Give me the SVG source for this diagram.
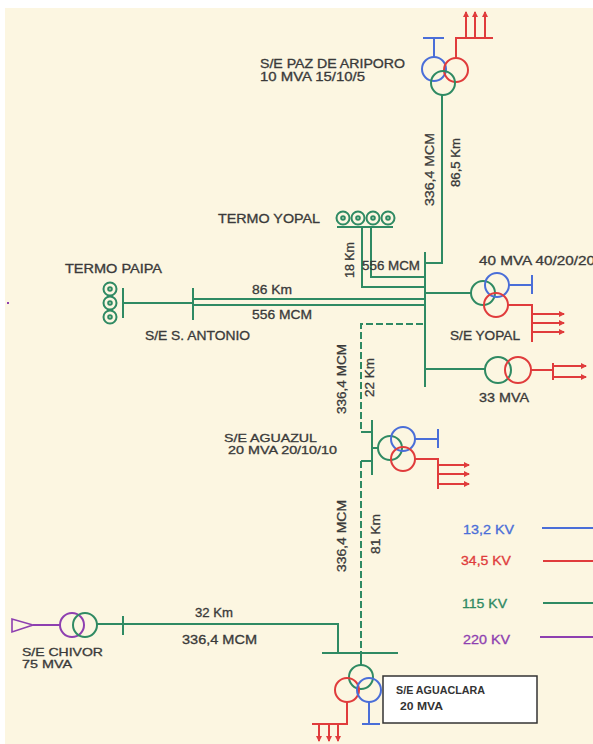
<svg xmlns="http://www.w3.org/2000/svg" width="593" height="744" viewBox="0 0 593 744">
<defs>
<style>
.g{stroke:#2f8a63;stroke-width:2;fill:none}
.gd{stroke:#2f8a63;stroke-width:2;fill:none;stroke-dasharray:7,3}
.b{stroke:#4a6ed8;stroke-width:2;fill:none}
.r{stroke:#e03c3c;stroke-width:2;fill:none}
.p{stroke:#8e3fb0;stroke-width:2;fill:none}
.ra{stroke:#e03c3c;stroke-width:2;fill:none;marker-end:url(#arr)}
.t{font-family:"Liberation Sans",Arial,sans-serif;font-size:12px;fill:#3a3a3a;stroke:#3a3a3a;stroke-width:0.3}
.s{font-family:"Liberation Sans",Arial,sans-serif;font-size:11px;fill:#3a3a3a;stroke:#3a3a3a;stroke-width:0.3}
.k{font-family:"Liberation Sans",Arial,sans-serif;font-size:10.5px;font-weight:bold;fill:#333}
.lg{font-family:"Liberation Sans",Arial,sans-serif;font-size:12px;stroke-width:0.3}
</style>
<marker id="arr" viewBox="0 0 6 6" refX="5" refY="3" markerWidth="6" markerHeight="6" markerUnits="userSpaceOnUse" orient="auto">
<path d="M0,0 L6,3 L0,6 z" fill="#e03c3c"/>
</marker>
</defs>
<rect x="0" y="0" width="593" height="744" fill="#ffffff"/>
<rect x="5" y="8" width="588" height="736" fill="#fcf6e1"/>
<rect x="7" y="302" width="2" height="2" fill="#8e3fb0"/>

<g id="connectors">
<polyline class="g" points="442,95 442,263 425,263"/>
<polyline class="g" points="362,227 362,287 425,287"/>
<polyline class="g" points="371,227 371,277 425,277"/>
<line class="g" x1="123" y1="303" x2="193" y2="303"/>
<line class="g" x1="193" y1="299" x2="425" y2="299"/>
<line class="g" x1="193" y1="305" x2="425" y2="305"/>
<line class="g" x1="425" y1="293" x2="471" y2="293"/>
<line class="g" x1="425" y1="369" x2="485" y2="369"/>
<polyline class="gd" points="423,324 361,324 361,432"/>
<line class="g" x1="361" y1="432" x2="372" y2="432"/>
<line class="g" x1="361" y1="461" x2="372" y2="461"/>
<line class="gd" x1="361" y1="461" x2="361" y2="653"/>
<polyline class="g" points="97,624 338,624 338,653"/>
</g>

<g id="line-labels">
<text class="t" transform="translate(434,206) rotate(-90)" textLength="73" lengthAdjust="spacingAndGlyphs">336,4  MCM</text>
<text class="t" transform="translate(460,187) rotate(-90)" textLength="49" lengthAdjust="spacingAndGlyphs">86,5 Km</text>
<text class="t" transform="translate(354,278) rotate(-90)" textLength="36" lengthAdjust="spacingAndGlyphs">18 Km</text>
<text class="t" x="362" y="270" textLength="58" lengthAdjust="spacingAndGlyphs">556 MCM</text>
<text class="t" x="252" y="294" textLength="40" lengthAdjust="spacingAndGlyphs">86 Km</text>
<text class="t" x="252" y="319" textLength="60" lengthAdjust="spacingAndGlyphs">556 MCM</text>
<text class="t" transform="translate(346,414) rotate(-90)" textLength="70" lengthAdjust="spacingAndGlyphs">336,4  MCM</text>
<text class="t" transform="translate(374,397) rotate(-90)" textLength="39" lengthAdjust="spacingAndGlyphs">22 Km</text>
<text class="t" transform="translate(346,572) rotate(-90)" textLength="72" lengthAdjust="spacingAndGlyphs">336,4  MCM</text>
<text class="t" transform="translate(380,554) rotate(-90)" textLength="40" lengthAdjust="spacingAndGlyphs">81 Km</text>
<text class="t" x="195" y="617" textLength="38" lengthAdjust="spacingAndGlyphs">32 Km</text>
<text class="t" x="182" y="644" textLength="75" lengthAdjust="spacingAndGlyphs">336,4  MCM</text>
</g>

<g id="se-paz-de-ariporo">
<polyline class="b" points="434,57 434,38"/>
<line class="b" x1="423" y1="38" x2="444" y2="38"/>
<polyline class="r" points="456,58 456,38 493,38"/>
<line class="ra" x1="466" y1="38" x2="466" y2="12"/>
<line class="ra" x1="475" y1="38" x2="475" y2="12"/>
<line class="ra" x1="485" y1="38" x2="485" y2="12"/>
<circle class="b" cx="434" cy="69" r="12"/>
<circle class="r" cx="456" cy="70" r="12"/>
<circle class="g" cx="443" cy="83" r="12"/>
<text class="t" x="260" y="68" textLength="145" lengthAdjust="spacingAndGlyphs">S/E PAZ DE ARIPORO</text>
<text class="t" x="260" y="81" textLength="105" lengthAdjust="spacingAndGlyphs">10 MVA  15/10/5</text>
</g>

<g id="termo-yopal">
<circle class="g" cx="343" cy="218" r="6.5" stroke-width="1.6"/>
<circle class="g" cx="358" cy="218" r="6.5" stroke-width="1.6"/>
<circle class="g" cx="373" cy="218" r="6.5" stroke-width="1.6"/>
<circle class="g" cx="388" cy="218" r="6.5" stroke-width="1.6"/>
<circle class="g" cx="343" cy="218" r="1.8" stroke-width="1"/>
<circle class="g" cx="358" cy="218" r="1.8" stroke-width="1"/>
<circle class="g" cx="373" cy="218" r="1.8" stroke-width="1"/>
<circle class="g" cx="388" cy="218" r="1.8" stroke-width="1"/>
<line class="g" x1="337" y1="227" x2="393" y2="227"/>
<text class="t" x="218" y="223" textLength="102" lengthAdjust="spacingAndGlyphs">TERMO YOPAL</text>
</g>

<g id="termo-paipa">
<circle class="g" cx="110" cy="289" r="6.5" stroke-width="1.6"/>
<circle class="g" cx="110" cy="303" r="6.5" stroke-width="1.6"/>
<circle class="g" cx="110" cy="317" r="6.5" stroke-width="1.6"/>
<circle class="g" cx="110" cy="289" r="1.8" stroke-width="1"/>
<circle class="g" cx="110" cy="303" r="1.8" stroke-width="1"/>
<circle class="g" cx="110" cy="317" r="1.8" stroke-width="1"/>
<line class="g" x1="123" y1="288" x2="123" y2="318"/>
<text class="t" x="65" y="273" textLength="97" lengthAdjust="spacingAndGlyphs">TERMO PAIPA</text>
</g>

<g id="se-s-antonio">
<line class="g" x1="193" y1="288" x2="193" y2="320"/>
<text class="t" x="145" y="340" textLength="105" lengthAdjust="spacingAndGlyphs">S/E S. ANTONIO</text>
</g>

<g id="yopal-bus">
<line class="g" x1="425" y1="252" x2="425" y2="387"/>
</g>

<g id="se-yopal">
<polyline class="b" points="509,285 532,285"/>
<line class="b" x1="532" y1="275" x2="532" y2="294"/>
<polyline class="r" points="508,305 532,305 532,342"/>
<line class="ra" x1="532" y1="314" x2="564" y2="314"/>
<line class="ra" x1="532" y1="323" x2="564" y2="323"/>
<line class="ra" x1="532" y1="332" x2="564" y2="332"/>
<circle class="g" cx="483" cy="293" r="12"/>
<circle class="b" cx="497" cy="285" r="12"/>
<circle class="r" cx="496" cy="305" r="12"/>
<text class="t" x="479" y="265" textLength="116" lengthAdjust="spacingAndGlyphs">40 MVA  40/20/20</text>
<text class="t" x="450" y="340" textLength="70" lengthAdjust="spacingAndGlyphs">S/E YOPAL</text>
</g>

<g id="t-33mva">
<polyline class="r" points="531,370 553,370"/>
<line class="r" x1="553" y1="363" x2="553" y2="380"/>
<line class="ra" x1="553" y1="366" x2="586" y2="366"/>
<line class="ra" x1="553" y1="377" x2="586" y2="377"/>
<circle class="g" cx="498" cy="370" r="13"/>
<circle class="r" cx="518" cy="370" r="13"/>
<text class="t" x="479" y="402" textLength="50" lengthAdjust="spacingAndGlyphs">33 MVA</text>
</g>

<g id="se-aguazul">
<line class="g" x1="372" y1="420" x2="372" y2="475"/>
<line class="g" x1="372" y1="448" x2="378" y2="448"/>
<polyline class="b" points="415,439 438,439"/>
<line class="b" x1="438" y1="429" x2="438" y2="448"/>
<polyline class="r" points="415,459 438,459 438,489"/>
<line class="ra" x1="438" y1="465" x2="469" y2="465"/>
<line class="ra" x1="438" y1="474" x2="469" y2="474"/>
<line class="ra" x1="438" y1="484" x2="469" y2="484"/>
<circle class="g" cx="390" cy="448" r="12"/>
<circle class="b" cx="403" cy="439" r="12"/>
<circle class="r" cx="403" cy="459" r="12"/>
<text class="s" x="224" y="442" textLength="93" lengthAdjust="spacingAndGlyphs">S/E AGUAZUL</text>
<text class="s" x="228" y="454" textLength="109" lengthAdjust="spacingAndGlyphs">20 MVA  20/10/10</text>
</g>

<g id="se-aguaclara">
<line class="g" x1="322" y1="653" x2="398" y2="653"/>
<line class="g" x1="361" y1="653" x2="361" y2="665"/>
<polyline class="r" points="347,702 347,724 312,724"/>
<line class="ra" x1="319" y1="724" x2="319" y2="741"/>
<line class="ra" x1="329" y1="724" x2="329" y2="741"/>
<line class="ra" x1="338" y1="724" x2="338" y2="741"/>
<line class="b" x1="369" y1="702" x2="369" y2="724"/>
<line class="b" x1="362" y1="724" x2="380" y2="724"/>
<circle class="g" cx="361" cy="677" r="12"/>
<circle class="r" cx="347" cy="690" r="12"/>
<circle class="b" cx="369" cy="690" r="12"/>
<rect x="383" y="676" width="154" height="47" fill="#ffffff" stroke="#333" stroke-width="1.5"/>
<text class="k" x="396" y="694" textLength="89" lengthAdjust="spacingAndGlyphs">S/E AGUACLARA</text>
<text class="k" x="400" y="710" textLength="43" lengthAdjust="spacingAndGlyphs">20 MVA</text>
</g>

<g id="se-chivor">
<path d="M12,619 L12,632 L33,625 z" fill="none" stroke="#8e3fb0" stroke-width="1.6"/>
<line class="p" x1="33" y1="625" x2="60" y2="625"/>
<circle class="p" cx="72" cy="625" r="12"/>
<circle class="g" cx="85" cy="625" r="12"/>
<line class="g" x1="123" y1="616" x2="123" y2="635"/>
<text class="s" x="22" y="656" textLength="81" lengthAdjust="spacingAndGlyphs">S/E CHIVOR</text>
<text class="s" x="22" y="668" textLength="50" lengthAdjust="spacingAndGlyphs">75 MVA</text>
</g>

<g id="legend">
<text class="lg" x="463" y="534" fill="#4a6ed8" stroke="#4a6ed8" textLength="51" lengthAdjust="spacingAndGlyphs">13,2 KV</text>
<line class="b" x1="542" y1="528" x2="593" y2="528"/>
<text class="lg" x="461" y="565" fill="#e03c3c" stroke="#e03c3c" textLength="50" lengthAdjust="spacingAndGlyphs">34,5 KV</text>
<line class="r" x1="543" y1="561" x2="593" y2="561"/>
<text class="lg" x="462" y="608" fill="#2f8a63" stroke="#2f8a63" textLength="45" lengthAdjust="spacingAndGlyphs">115 KV</text>
<line class="g" x1="543" y1="603" x2="593" y2="603"/>
<text class="lg" x="463" y="644" fill="#8e3fb0" stroke="#8e3fb0" textLength="47" lengthAdjust="spacingAndGlyphs">220 KV</text>
<line class="p" x1="540" y1="637" x2="593" y2="637"/>
</g>
</svg>
